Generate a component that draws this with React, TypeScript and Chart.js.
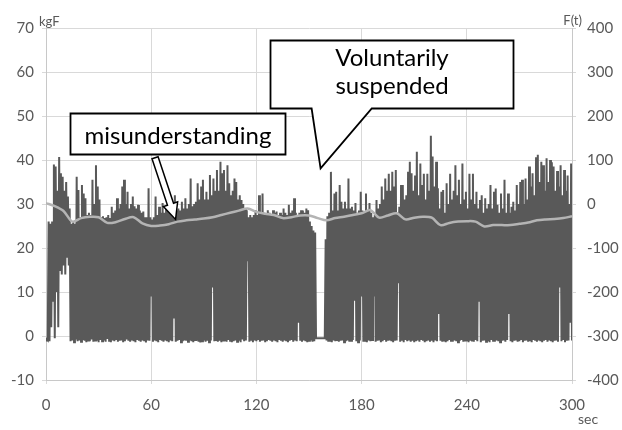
import React, { useEffect, useRef } from "react";
import { Chart, registerables } from "chart.js";

Chart.register(...registerables);

// Sampling: one load cycle per second (trough at t, peak at t + 0.5)
const SAMPLE_STEP_SEC = 1;
// F(t) is sampled every 5 seconds
const F_STEP_SEC = 5;

// Peak force of each cycle, kgF (t = 0 .. 299)
const peakKgf = [
  -0.8, 26, 25.5, 26, 39, 38.5, 33, 40.7, 37, 36.2,
  33, 35, 31.7, 29, 25.5, 26, 25.5, 36.2, 33.2, 27,
  34.3, 32.4, 31.3, 27.5, 28, 27.5, 35.5, 30, 38.8, 34,
  31, 27, 27.2, 26.8, 27, 27.5, 26.8, 29.4, 28, 28.5,
  31.3, 29, 30, 34, 35.5, 30, 32.8, 29, 30, 31.7,
  29.5, 29, 29.8, 28.5, 28, 28.3, 27, 27, 33.6, 27,
  26.5, 27, 31.7, 27.5, 29.4, 28, 30.2, 28, 29.4, 28,
  30.9, 28.5, 29, 32, 28.5, 29, 28.5, 30.5, 29, 31.3,
  29, 30, 35.8, 29.5, 30, 30.5, 34.7, 31, 34, 35.5,
  31, 32.8, 31, 36.6, 32, 35.8, 33, 37.7, 33, 39.6,
  37, 37.7, 33, 38.8, 34.7, 32, 33, 35.8, 35, 31,
  32, 30.9, 30, 29, 28.6, 27, 27.5, 27, 27.5, 28.6,
  27.5, 32, 28, 32.4, 28, 27.5, 28.6, 28, 27.5, 28.6,
  28, 28.3, 27.5, 28, 27.5, 29, 28, 27.5, 29.8, 28,
  28.5, 31.3, 28, 27.5, 28, 28.6, 28.5, 28, 29, 28.6,
  26, 25, 24, 23.5, -0.5, -0.5, -0.5, -0.5, -0.5, 22,
  27.2, 28, 37.3, 28.5, 32.4, 32.8, 28.5, 34.3, 30.5, 29,
  30.5, 29, 35.8, 29, 29.4, 28.5, 30.2, 28, 28.5, 32.8,
  28.5, 28.3, 32.4, 28.5, 30.2, 28, 27, 27.5, 30.9, 29,
  30, 34, 31, 35.8, 33, 36.9, 33, 37.3, 34, 37.7,
  28, 29.4, 34.3, 34.3, 31, 32, 37.3, 39.6, 37, 33,
  36.5, 41.9, 32, 39.2, 34.3, 36.9, 31, 36.9, 33, 45.5,
  40.8, 34, 39.6, 33.6, 29, 32.8, 33.2, 28, 34.7, 30,
  36.9, 31, 33, 38.8, 32, 35.5, 30, 39.2, 31, 32.8,
  29, 36.9, 31, 36.9, 30, 32.8, 29, 30.9, 32, 28,
  31.3, 29, 30, 34.3, 29, 32.8, 33.5, 29.8, 28, 32.4,
  29, 35.5, 28, 32.4, 28, 29.4, 30.5, 28.5, 34.3, 30,
  35, 35.5, 30, 35.8, 31, 38.5, 34, 37, 32, 40.6,
  41.2, 35, 39.6, 38.8, 33, 40.4, 35, 40, 39.5, 38.5,
  33, 37.5, 34, 38.8, 32, 37.7, 33, 36.5, 30, 39.2,
];

// Trough force between cycles, kgF (t = 0 .. 300)
const troughKgf = [
  -1, -1, -1.2, 2, 8, -0.5, 10, 2, 15, 14,
  16, 14, 18, 16, -1.2, -1, -1.4, -0.8, -1.2, -1,
  -1.3, -0.9, -1.1, -1.4, -1, -1.2, -0.8, -1.3, -1, -1.1,
  -1.4, -0.9, -1.2, -1, -1.3, -0.7, -1.1, -1.4, -1, -1.2,
  -0.9, -1.3, -1.1, -1, -1.4, -1.2, -0.8, -1.1, -1.3, -1,
  -1.2, -1.4, -0.9, -1.1, -1.3, -1, -1.2, -1.5, -1, -1.1,
  9, -1.3, -1, -1.2, -1.4, -0.9, -1.1, -1.3, -1, -1.2,
  -1.4, -1, -1.2, 4, -1.3, -1.1, -0.9, -1.4, -1.2, -1,
  -1.1, -1.3, -1, -1.2, -1.4, -0.9, -1.1, -1.3, -1.5, -1.2,
  -1, -1.3, -1.1, -1.4, -1, 11, -1.2, -0.9, -1.3, -1.1,
  -1.4, -1, -1.2, -1.3, -0.9, -1.1, -1.4, -1.2, -1, -1.3,
  -1.1, -1.4, -0.8, -1.2, -1, 17, -1.3, -1.1, -1.4, -1,
  -1.2, -0.9, -1.3, -1.1, -1, -1.4, -1.2, -0.9, -1.1, -1.3,
  -1, -1.2, -1.4, -0.9, -1.1, -1.3, -1, -1.2, -1.4, -1.1,
  -0.9, -1.3, -1, -1.2, 3, -1.1, -1.3, -1, -1.2, -1.4,
  -1.1, -1, -1.3, -1.2, -0.5, -0.5, -0.5, -0.5, -0.5, -0.5,
  -1, -1.3, -1.1, -1.4, -1, -1.2, -0.9, -1.3, -1.1, -1,
  -1.4, -1.2, -1, -1.3, -1.1, -0.9, 8, -1.2, -1.4, -1,
  9, -1.3, -1.1, -1.4, -1, -1.2, -0.9, 9, -1.3, -1.1,
  -1, -1.4, -1.2, -0.9, -1.3, -1.1, -1, -1.2, -1.4, -1.1,
  -1, 12, -1.3, -1.1, -1.4, -0.9, -1.2, -1, -1.3, -1.1,
  -1.4, -1.2, -1, -1.3, -0.9, -1.1, -1.4, -1.2, -1, -1.3,
  -1.1, -1.4, -1, -1.2, 5, -1.1, -1.3, -1, -1.4, -1.2,
  -0.9, -1.1, -1.3, -1, -1.2, -1.4, -1.1, -0.9, -1.3, -1,
  -1.2, -1.4, -1.1, -1, -1.3, -0.9, -1.2, 8, -1.4, -1.1,
  -1, -1.3, -1.2, -1.4, -0.9, -1.1, -1.3, -1, -1.2, -1.4,
  -1.1, -1, -1.3, -0.9, 5, -1.2, -1.4, -1.1, -1, -1.3,
  -1.2, -0.9, -1.4, -1.1, -1, -1.3, -1.2, -1.4, -0.9, -1.1,
  -1.3, -1, -1.2, -1.4, -1.1, -0.9, -1.3, -1, -1.2, -1.4,
  -1.1, -1, -1.3, 11, -1.2, -0.9, -1.4, -1.1, -1, 3,
  -1,
];

// F(t) on the right axis, every 5 s from 0 to 300
const forceF = [
  2, -5, -16, -40, -32, -29, -30, -43, -41, -34,
  -30, -44, -50, -49, -46, -40, -37, -35, -33, -30,
  -25, -20, -15, -10, -18, -22, -25, -32, -30, -26,
  -26, -32, -37, -32, -29, -25, -21, -14, -31, -26,
  -21, -35, -31, -29, -31, -48, -43, -40, -39, -40,
  -51, -48, -48, -48, -45, -42, -37, -35, -34, -32,
  -28,
];

// Axis tick values
const xTicks = [0, 60, 120, 180, 240, 300];
const yLeftTicks = [-10, 0, 10, 20, 30, 40, 50, 60, 70];
const yRightTicks = [-400, -300, -200, -100, 0, 100, 200, 300, 400];

// Callout texts
const noteMisunderstanding = "misunderstanding";
const noteSuspended = ["Voluntarily", "suspended"];

// Callout anchors in data units (seconds, kgF)
const misBox = { t0: 13.7, t1: 136.3, top: 50.7, bottom: 41.4 };
const misArrow = { tailT: 62.2, tailV: 40.5, tipT: 73.9, tipV: 26.5 };
const suspBox = { t0: 127.8, t1: 266.4, top: 67.3, bottom: 51.8 };
const suspPointer = { baseT0: 151.5, baseT1: 185.8, tipT: 156.6, tipV: 38.1 };

const FONT = "Lato, 'Open Sans', sans-serif";
const TICK_COLOR = "#595959";

const calloutPlugin = {
  id: "callouts",
  afterDatasetsDraw(chart: any) {
    const { ctx, scales } = chart;
    const xs = scales.x;
    const ys = scales.y;
    const px = (t: number) => xs.getPixelForValue(t);
    const py = (v: number) => ys.getPixelForValue(v);
    ctx.save();
    ctx.lineJoin = "miter";
    ctx.strokeStyle = "#000";
    ctx.lineWidth = 1.8;
    ctx.fillStyle = "#fff";

    // Speech bubble
    const l = Math.round(px(suspBox.t0)) + 0.5;
    const r = Math.round(px(suspBox.t1)) + 0.5;
    const tp = Math.round(py(suspBox.top)) + 0.5;
    const bt = Math.round(py(suspBox.bottom)) + 0.5;
    ctx.beginPath();
    ctx.moveTo(l, tp);
    ctx.lineTo(r, tp);
    ctx.lineTo(r, bt);
    ctx.lineTo(px(suspPointer.baseT1), bt);
    ctx.lineTo(px(suspPointer.tipT), py(suspPointer.tipV));
    ctx.lineTo(px(suspPointer.baseT0), bt);
    ctx.lineTo(l, bt);
    ctx.closePath();
    ctx.fill();
    ctx.stroke();

    ctx.fillStyle = "#000";
    ctx.font = `24px ${FONT}`;
    ctx.textAlign = "center";
    ctx.textBaseline = "alphabetic";
    const cx = (l + r) / 2;
    ctx.fillText(noteSuspended[0], cx, tp + 25);
    ctx.fillText(noteSuspended[1], cx, tp + 53);

    // Box label
    const ml = Math.round(px(misBox.t0)) + 0.5;
    const mr = Math.round(px(misBox.t1)) + 0.5;
    const mt = Math.round(py(misBox.top)) + 0.5;
    const mb = Math.round(py(misBox.bottom)) + 0.5;
    ctx.fillStyle = "#fff";
    ctx.beginPath();
    ctx.rect(ml, mt, mr - ml, mb - mt);
    ctx.fill();
    ctx.stroke();
    ctx.fillStyle = "#000";
    ctx.fillText(noteMisunderstanding, (ml + mr) / 2, mt + 30);

    // Block arrow
    const ax0 = px(misArrow.tailT);
    const ay0 = py(misArrow.tailV);
    const ax1 = px(misArrow.tipT);
    const ay1 = py(misArrow.tipV);
    const len = Math.hypot(ax1 - ax0, ay1 - ay0);
    const ux = (ax1 - ax0) / len;
    const uy = (ay1 - ay0) / len;
    const nx = -uy;
    const ny = ux;
    const headLen = 16;
    const shaftHalf = 3.2;
    const headHalf = 7.5;
    const bx = ax1 - ux * headLen;
    const by = ay1 - uy * headLen;
    ctx.lineWidth = 1.5;
    ctx.fillStyle = "#fff";
    ctx.beginPath();
    ctx.moveTo(ax0 + nx * shaftHalf, ay0 + ny * shaftHalf);
    ctx.lineTo(bx + nx * shaftHalf, by + ny * shaftHalf);
    ctx.lineTo(bx + nx * headHalf, by + ny * headHalf);
    ctx.lineTo(ax1, ay1);
    ctx.lineTo(bx - nx * headHalf, by - ny * headHalf);
    ctx.lineTo(bx - nx * shaftHalf, by - ny * shaftHalf);
    ctx.lineTo(ax0 - nx * shaftHalf, ay0 - ny * shaftHalf);
    ctx.closePath();
    ctx.fill();
    ctx.stroke();
    ctx.restore();
  },
  afterDraw(chart: any) {
    const { ctx, chartArea } = chart;
    ctx.save();
    ctx.fillStyle = TICK_COLOR;
    ctx.font = `13px ${FONT}`;
    ctx.textBaseline = "alphabetic";
    ctx.textAlign = "left";
    ctx.fillText("kgF", chartArea.left - 7, chartArea.top - 2);
    ctx.textAlign = "right";
    ctx.fillText("F(t)", chartArea.right + 10, chartArea.top - 3);
    ctx.font = `14px ${FONT}`;
    ctx.textAlign = "left";
    ctx.fillText("sec", chartArea.right + 6, chartArea.bottom + 44);
    ctx.restore();
  },
};

export default function App() {
  const canvasRef = useRef<HTMLCanvasElement | null>(null);

  useEffect(() => {
    const canvas = canvasRef.current;
    if (!canvas) return;

    const signal: { x: number; y: number }[] = [];
    for (let i = 0; i < peakKgf.length; i++) {
      signal.push({ x: i * SAMPLE_STEP_SEC, y: troughKgf[i] });
      signal.push({ x: (i + 0.5) * SAMPLE_STEP_SEC, y: peakKgf[i] });
    }
    signal.push({ x: peakKgf.length * SAMPLE_STEP_SEC, y: troughKgf[peakKgf.length] });

    const fSeries = forceF.map((v, i) => ({ x: i * F_STEP_SEC, y: v }));

    const tickFont = { family: FONT, size: 15 };
    const gridColor = "#d9d9d9";

    const chart = new Chart(canvas, {
      type: "line",
      data: {
        datasets: [
          {
            label: "F(t)",
            data: fSeries,
            yAxisID: "y2",
            borderColor: "#b4b4b4",
            borderWidth: 2.5,
            pointRadius: 0,
            tension: 0.3,
            order: 0,
          },
          {
            label: "kgF",
            data: signal,
            yAxisID: "y",
            borderColor: "#595959",
            borderWidth: 2,
            pointRadius: 0,
            tension: 0,
            order: 1,
          },
        ],
      },
      options: {
        animation: false,
        responsive: false,
        events: [],
        layout: { padding: { top: 28, left: 0, right: 0, bottom: 0 } },
        plugins: { legend: { display: false }, tooltip: { enabled: false } },
        scales: {
          x: {
            type: "linear",
            min: xTicks[0],
            max: xTicks[xTicks.length - 1],
            afterBuildTicks: (s: any) => {
              s.ticks = xTicks.map((v) => ({ value: v }));
            },
            ticks: { font: tickFont, color: TICK_COLOR, padding: 12, maxRotation: 0 },
            grid: { color: gridColor, tickLength: 4 },
            border: { color: "#c8c8c8" },
            afterFit: (s: any) => {
              s.height = 50;
            },
          },
          y: {
            position: "left",
            min: yLeftTicks[0],
            max: yLeftTicks[yLeftTicks.length - 1],
            afterBuildTicks: (s: any) => {
              s.ticks = yLeftTicks.map((v) => ({ value: v }));
            },
            ticks: { font: tickFont, color: TICK_COLOR, padding: 8 },
            grid: { color: gridColor, tickLength: 4 },
            border: { color: "#c8c8c8" },
            afterFit: (s: any) => {
              s.width = 46;
            },
          },
          y2: {
            position: "right",
            min: yRightTicks[0],
            max: yRightTicks[yRightTicks.length - 1],
            afterBuildTicks: (s: any) => {
              s.ticks = yRightTicks.map((v) => ({ value: v }));
            },
            ticks: { font: tickFont, color: TICK_COLOR, padding: 11 },
            grid: { color: gridColor, tickLength: 4, drawOnChartArea: false },
            border: { color: "#c8c8c8" },
            afterFit: (s: any) => {
              s.width = 50;
            },
          },
        },
      },
      plugins: [calloutPlugin],
    } as any);

    return () => chart.destroy();
  }, []);

  return (
    <div style={{ position: "fixed", left: 0, top: 0, width: 622, height: 430, background: "#fff" }}>
      <canvas ref={canvasRef} width={622} height={430} />
    </div>
  );
}
